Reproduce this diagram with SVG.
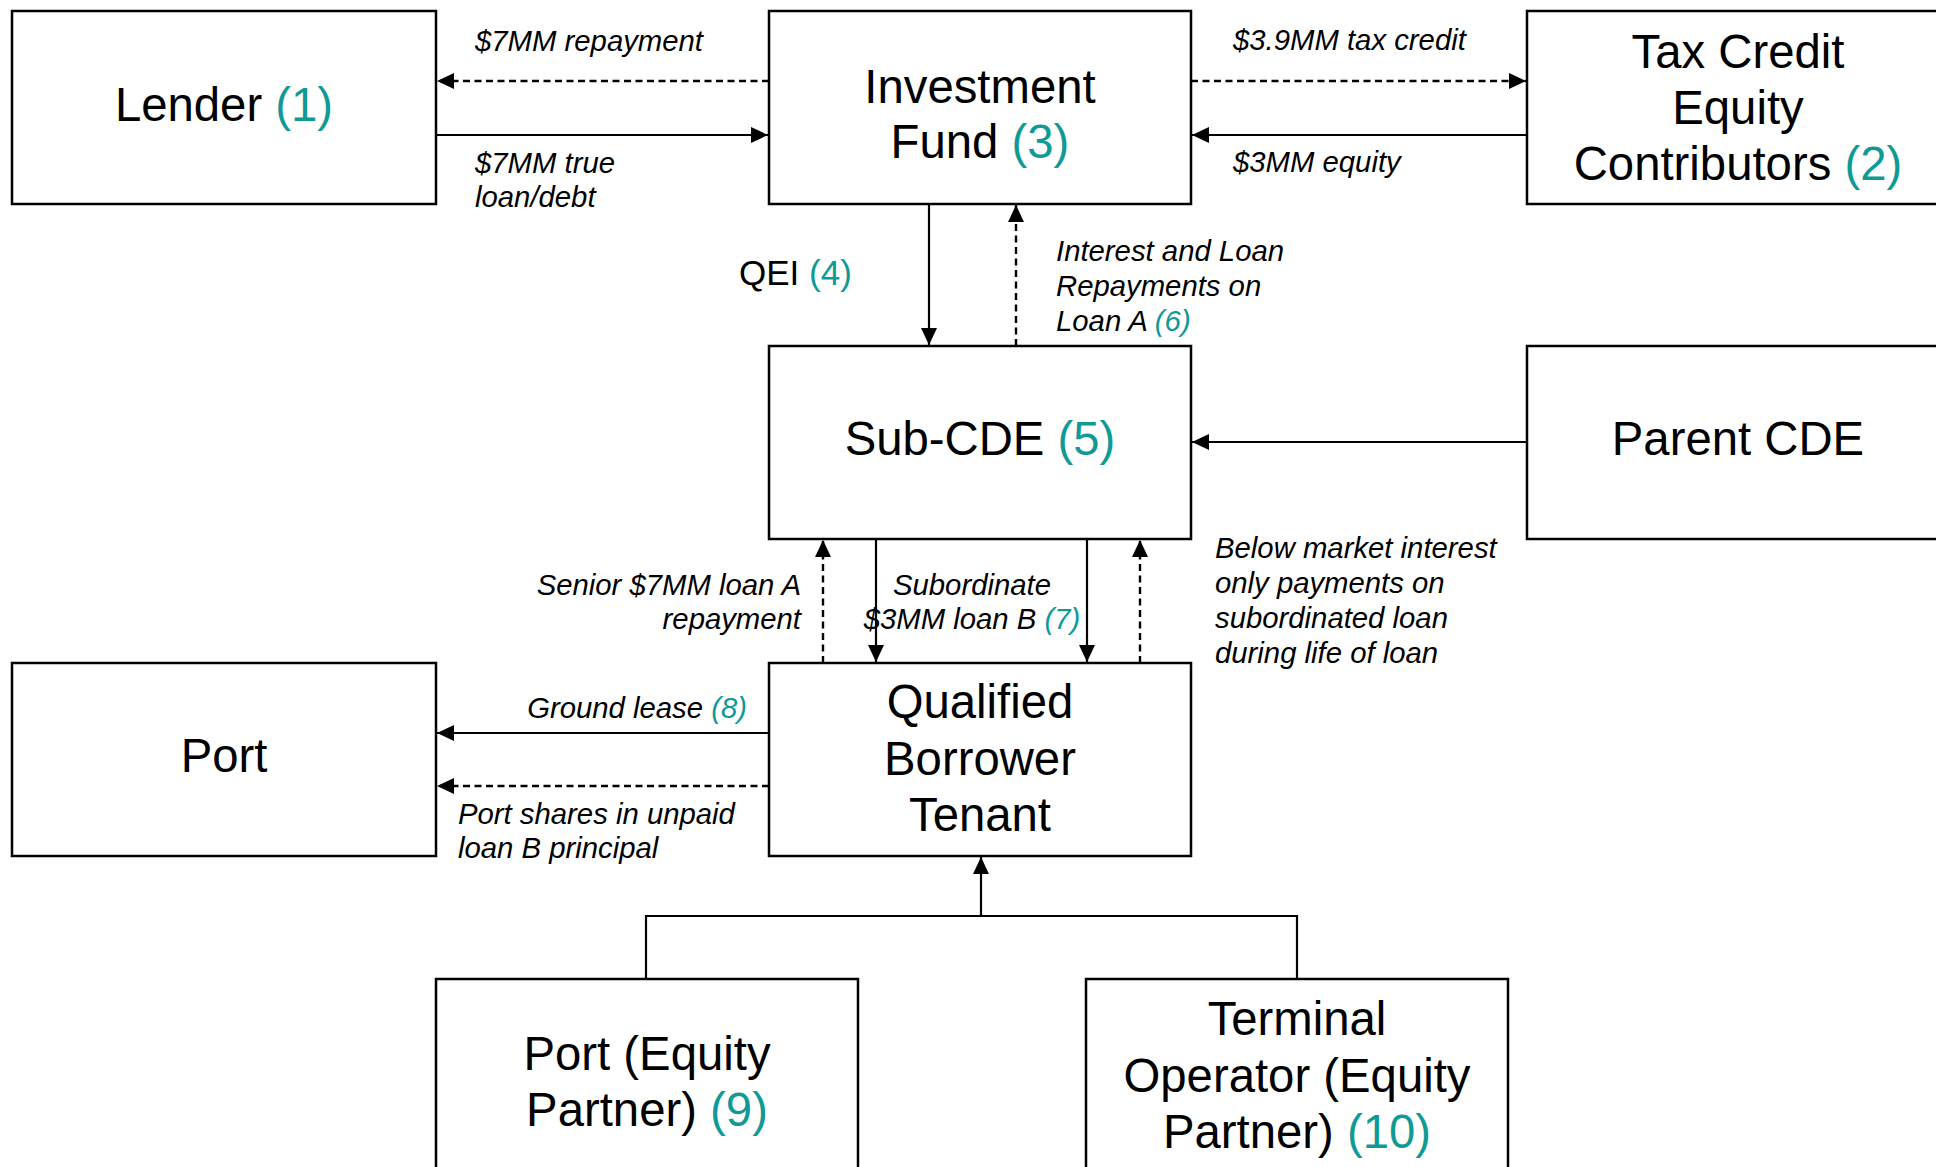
<svg xmlns="http://www.w3.org/2000/svg" width="1936" height="1167" viewBox="0 0 1936 1167">
<style>
.box{fill:#fff;stroke:#000;stroke-width:2.5}
.lbl{font-family:"Liberation Sans",Arial,sans-serif;font-size:47.3px;fill:#000;text-anchor:middle}
.it{font-family:"Liberation Sans",Arial,sans-serif;font-size:29.3px;font-style:italic;fill:#000}
.num{fill:#0f9a96}
.ln{fill:none;stroke:#000;stroke-width:2.2}
.dash{stroke-dasharray:7,4.5;stroke-width:2.4}
</style>
<defs>
<marker id="ah" markerUnits="userSpaceOnUse" markerWidth="17" markerHeight="16" refX="17" refY="8" orient="auto">
<path d="M0,0 L17,8 L0,16 z" fill="#000"/>
</marker>
</defs>
<rect width="1936" height="1167" fill="#fff"/>
<g id="connectors">
<line class="ln dash" x1="769" y1="81" x2="437" y2="81" marker-end="url(#ah)"/>
<line class="ln" x1="436" y1="135" x2="768" y2="135" marker-end="url(#ah)"/>
<line class="ln dash" x1="1191" y1="81" x2="1526" y2="81" marker-end="url(#ah)"/>
<line class="ln" x1="1527" y1="135" x2="1192" y2="135" marker-end="url(#ah)"/>
<line class="ln" x1="929" y1="204" x2="929" y2="345" marker-end="url(#ah)"/>
<line class="ln dash" x1="1016" y1="346" x2="1016" y2="205" marker-end="url(#ah)"/>
<line class="ln" x1="1527" y1="442" x2="1192" y2="442" marker-end="url(#ah)"/>
<line class="ln dash" x1="823" y1="663" x2="823" y2="540" marker-end="url(#ah)"/>
<line class="ln" x1="876" y1="539" x2="876" y2="662" marker-end="url(#ah)"/>
<line class="ln" x1="1087" y1="539" x2="1087" y2="662" marker-end="url(#ah)"/>
<line class="ln dash" x1="1140" y1="663" x2="1140" y2="540" marker-end="url(#ah)"/>
<line class="ln" x1="769" y1="733" x2="437" y2="733" marker-end="url(#ah)"/>
<line class="ln dash" x1="769" y1="786" x2="437" y2="786" marker-end="url(#ah)"/>
<polyline class="ln" points="646,979 646,916 1297,916 1297,979"/>
<line class="ln" x1="981" y1="916" x2="981" y2="857" marker-end="url(#ah)"/>
</g>
<g id="lender">
<rect class="box" x="12" y="11" width="424" height="193"/>
<text class="lbl" x="224" y="121">Lender <tspan class="num">(1)</tspan></text>
</g>
<g id="investment-fund">
<rect class="box" x="769" y="11" width="422" height="193"/>
<text class="lbl" x="980" y="103">Investment</text>
<text class="lbl" x="980" y="158">Fund <tspan class="num">(3)</tspan></text>
</g>
<g id="tax-credit">
<rect class="box" x="1527" y="11" width="422" height="193"/>
<text class="lbl" x="1738" y="68">Tax Credit</text>
<text class="lbl" x="1738" y="124">Equity</text>
<text class="lbl" x="1738" y="180">Contributors <tspan class="num">(2)</tspan></text>
</g>
<g id="sub-cde">
<rect class="box" x="769" y="346" width="422" height="193"/>
<text class="lbl" x="980" y="455">Sub-CDE <tspan class="num">(5)</tspan></text>
</g>
<g id="parent-cde">
<rect class="box" x="1527" y="346" width="422" height="193"/>
<text class="lbl" x="1738" y="455">Parent CDE</text>
</g>
<g id="port">
<rect class="box" x="12" y="663" width="424" height="193"/>
<text class="lbl" x="224" y="772">Port</text>
</g>
<g id="qualified-borrower">
<rect class="box" x="769" y="663" width="422" height="193"/>
<text class="lbl" x="980" y="718">Qualified</text>
<text class="lbl" x="980" y="775">Borrower</text>
<text class="lbl" x="980" y="831">Tenant</text>
</g>
<g id="port-equity">
<rect class="box" x="436" y="979" width="422" height="193"/>
<text class="lbl" x="647" y="1070">Port (Equity</text>
<text class="lbl" x="647" y="1126">Partner) <tspan class="num">(9)</tspan></text>
</g>
<g id="terminal-operator">
<rect class="box" x="1086" y="979" width="422" height="193"/>
<text class="lbl" x="1297" y="1035">Terminal</text>
<text class="lbl" x="1297" y="1092">Operator (Equity</text>
<text class="lbl" x="1297" y="1148">Partner) <tspan class="num">(10)</tspan></text>
</g>
<g id="labels">
<text class="it" x="475" y="51">$7MM repayment</text>
<text class="it" x="475" y="173">$7MM true</text>
<text class="it" x="475" y="207">loan/debt</text>
<text class="it" x="1233" y="50">$3.9MM tax credit</text>
<text class="it" x="1233" y="172">$3MM equity</text>
<text x="739" y="285" style="font-family:'Liberation Sans',Arial,sans-serif;font-size:35px;fill:#000">QEI <tspan class="num">(4)</tspan></text>
<text class="it" x="1056" y="261">Interest and Loan</text>
<text class="it" x="1056" y="296">Repayments on</text>
<text class="it" x="1056" y="331">Loan A <tspan class="num">(6)</tspan></text>
<text class="it" x="801" y="595" text-anchor="end">Senior $7MM loan A</text>
<text class="it" x="801" y="629" text-anchor="end">repayment</text>
<text class="it" x="972" y="595" text-anchor="middle">Subordinate</text>
<text class="it" x="972" y="629" text-anchor="middle">$3MM loan B <tspan class="num">(7)</tspan></text>
<text class="it" x="1215" y="558">Below market interest</text>
<text class="it" x="1215" y="593">only payments on</text>
<text class="it" x="1215" y="628">subordinated loan</text>
<text class="it" x="1215" y="663">during life of loan</text>
<text class="it" x="747" y="718" text-anchor="end">Ground lease <tspan class="num">(8)</tspan></text>
<text class="it" x="458" y="824">Port shares in unpaid</text>
<text class="it" x="458" y="858">loan B principal</text>
</g>
</svg>
